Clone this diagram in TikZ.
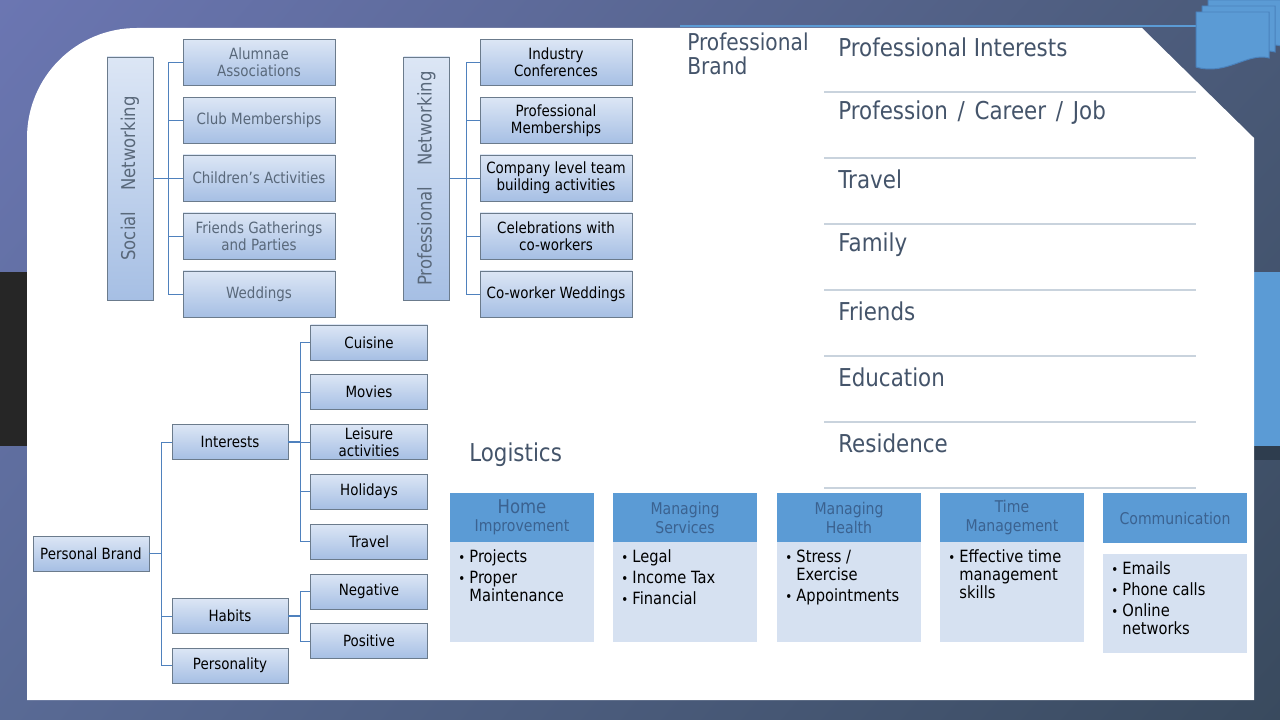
\documentclass[tikz,border=0pt]{standalone}
\usepackage{fontspec}
\usepackage{graphicx}
\usetikzlibrary{shadings}
\setmainfont{DejaVu Sans}[FakeStretch=0.87]
\definecolor{bgA}{HTML}{6B76B2}
\definecolor{bgB}{HTML}{4A5A78}
\definecolor{bgC}{HTML}{596A95}
\definecolor{bgD}{HTML}{394A5E}
\definecolor{darkband}{HTML}{262626}
\definecolor{accent}{HTML}{5B9BD5}
\definecolor{docedge}{HTML}{4A82BD}
\definecolor{strip}{HTML}{2E3D4E}
\definecolor{gtop}{HTML}{DCE6F5}
\definecolor{gbot}{HTML}{A6BFE4}
\definecolor{gborder}{HTML}{6B7B8C}
\definecolor{graytext}{HTML}{59687A}
\definecolor{slate}{HTML}{44546A}
\definecolor{brline}{HTML}{4F81BD}
\definecolor{sepline}{HTML}{C9D3DD}
\definecolor{bodyblue}{HTML}{D6E1F1}
\definecolor{hdrtext}{HTML}{3B6290}
\tikzset{
  gbox/.style={draw=gborder, line width=0.7pt, top color=gtop, bottom color=gbot,
    align=center, inner sep=0pt, font=\fontsize{11}{12.2}\selectfont},
  snbox/.style={gbox, minimum width={152*0.025cm}, minimum height={46*0.025cm}, text=graytext},
  pnbox/.style={gbox, minimum width={152*0.025cm}, minimum height={46*0.025cm}, text=black},
  pbbox/.style={gbox, minimum width={116*0.025cm}, minimum height={35*0.025cm}, text=black},
  chbox/.style={gbox, minimum width={117*0.025cm}, minimum height={35*0.025cm}, text=black},
  vbox/.style={gbox, minimum width={46*0.025cm}, minimum height={243*0.025cm}},
  vtext/.style={rotate=90, font=\fontsize{13.5}{15}\selectfont, text=graytext},
  br/.style={draw=brline, line width=0.7pt},
  brthick/.style={draw=brline, line width=1.4pt},
  listtext/.style={anchor=west, text=slate, font=\fontsize{17.5}{20}\selectfont, inner sep=0pt},
  sep/.style={draw=sepline, line width=0.8pt},
  hdr/.style={fill=accent, minimum width={144*0.025cm}, minimum height={49*0.025cm}, align=center, text=hdrtext, inner sep=0pt, font=\fontsize{11.5}{13.5}\selectfont},
  body/.style={fill=bodyblue, minimum width={144*0.025cm}, inner sep=0pt},
  btext/.style={anchor=north west, inner sep=0pt, font=\fontsize{12}{13}\selectfont, text=black},
}
\newcommand\bul{\scalebox{0.8}{\textbullet}}
\begin{document}
\begin{tikzpicture}[x=0.025cm, y=-0.025cm]
\useasboundingbox (0,0) rectangle (1280,720);
% background
\shade[upper left=bgA, upper right=bgB, lower left=bgC, lower right=bgD] (0,0) rectangle (1280,720);
\fill[darkband] (0,272) rectangle (27,446);
\fill[accent] (1254,272) rectangle (1280,446);
\fill[strip] (1254,446) rectangle (1280,460);
% white panel
\fill[white] (27,700) -- (27,138) .. controls (27,77) and (76,28) .. (137,28) -- (1142,28) -- (1254,138) -- (1254,700) -- cycle;
\draw[accent, line width=0.9pt] (680,26) -- (1200,26);
% document icon
\foreach \dx/\dy in {1208/0, 1202/6, 1196/12}{
  \filldraw[fill=accent, draw=docedge, line width=0.7pt] (\dx,\dy) -- (\dx+73,\dy) -- (\dx+73,\dy+46)
    .. controls (\dx+52,\dy+40) and (\dx+30,\dy+64) .. (\dx,\dy+55) -- cycle;
}
% ---------- Social networking ----------
\node[vbox] (sn) at (130,178.5) {};
\node[vtext] (snt) at (sn.center) {Social\hspace{1.1em}Networking};
\node[snbox] (s1) at (259,62.5) {Alumnae\\Associations};
\node[snbox] (s2) at (259,120.5) {Club Memberships};
\node[snbox] (s3) at (259,178) {Children’s Activities};
\node[snbox] (s4) at (259,236) {Friends Gatherings\\and Parties};
\node[snbox] (s5) at (259,294) {Weddings};
\coordinate (sj) at (168,178.5);
\draw[brthick] (sn.east) -- (sj);
\foreach \n in {s1,s2,s3,s4,s5}{\draw[br] (sj) |- (\n.west);}
% ---------- Professional networking ----------
\node[vbox] (pn) at (426.5,178.5) {};
\node[vtext] (pnt) at (pn.center) {Professional\hspace{1.1em}Networking};
\node[pnbox] (p1) at (556,62.5) {Industry\\Conferences};
\node[pnbox] (p2) at (556,120.5) {Professional\\Memberships};
\node[pnbox] (p3) at (556,178) {Company level team\\building activities};
\node[pnbox] (p4) at (556,236) {Celebrations with\\co-workers};
\node[pnbox] (p5) at (556,294) {Co-worker Weddings};
\coordinate (pj) at (466,178.5);
\draw[brthick] (pn.east) -- (pj);
\foreach \n in {p1,p2,p3,p4,p5}{\draw[br] (pj) |- (\n.west);}
% ---------- Personal brand ----------
\node[pbbox] (pb) at (91,553.5) {Personal Brand};
\node[pbbox] (int) at (230,442) {Interests};
\node[pbbox] (hab) at (230,616) {Habits};
\node[pbbox] (per) at (230,665.5) {Personality};
\node[chbox] (c1) at (369,342.5) {Cuisine};
\node[chbox] (c2) at (369,392) {Movies};
\node[chbox] (c3) at (369,442) {Leisure\\activities};
\node[chbox] (c4) at (369,491.5) {Holidays};
\node[chbox] (c5) at (369,541.5) {Travel};
\node[chbox] (h1) at (369,591.5) {Negative};
\node[chbox] (h2) at (369,641) {Positive};
\coordinate (pbj) at (161,553.5);
\coordinate (ij) at (300,442);
\coordinate (hj) at (300,616);
\draw[brthick] (pb.east) -- (pbj);
\foreach \n in {int,hab,per}{\draw[br] (pbj) |- (\n.west);}
\draw[brthick] (int.east) -- (ij);
\foreach \n in {c1,c2,c3,c4,c5}{\draw[br] (ij) |- (\n.west);}
\draw[brthick] (hab.east) -- (hj);
\foreach \n in {h1,h2}{\draw[br] (hj) |- (\n.west);}
% ---------- Professional brand list ----------
\node[anchor=north west, align=left, text=slate, inner sep=0pt, font=\fontsize{16.5}{16.5}\selectfont] (pbr) at (687,33) {Professional\\Brand};
\node[listtext] (l1) at (838,47) {Professional Interests};
\node[listtext] (l2) at (838,113) {Profession\hspace{0.12em} /\hspace{0.12em} Career\hspace{0.12em} /\hspace{0.12em} Job};
\node[listtext] (l3) at (838,179) {Travel};
\node[listtext] (l4) at (838,245) {Family};
\node[listtext] (l5) at (838,311) {Friends};
\node[listtext] (l6) at (838,377) {Education};
\node[listtext] (l7) at (838,443) {Residence};
\foreach \y in {92,158,224,290,356,422,488}{\draw[sep] (824,\y) -- (1196,\y);}
% ---------- Logistics ----------
\node[listtext] (log) at (469,455) {Logistics};
% column 1
\node[hdr] (h1b) at (522,517.5) {{\fontsize{13.5}{15}\selectfont Home}\\[-1pt]Improvement};
\node[body, minimum height={100*0.025cm}] (b1) at (522,592) {};
\node[btext] (t1) at (458,549) {\begin{tabular}{@{}l@{\hspace{3pt}}l@{}}\bul&Projects\\[2pt]\bul&Proper\\&Maintenance\end{tabular}};
% column 2
\node[hdr] (h2b) at (685,517.5) {Managing\\Services};
\node[body, minimum height={100*0.025cm}] (b2) at (685,592) {};
\node[btext] (t2) at (621,549) {\begin{tabular}{@{}l@{\hspace{3pt}}l@{}}\bul&Legal\\[2pt]\bul&Income Tax\\[2pt]\bul&Financial\end{tabular}};
% column 3
\node[hdr] (h3b) at (849,517.5) {Managing\\Health};
\node[body, minimum height={100*0.025cm}] (b3) at (849,592) {};
\node[btext] (t3) at (785,549) {\begin{tabular}{@{}l@{\hspace{3pt}}l@{}}\bul&Stress /\\&Exercise\\[2pt]\bul&Appointments\end{tabular}};
% column 4
\node[hdr] (h4b) at (1012,517.5) {Time\\Management};
\node[body, minimum height={100*0.025cm}] (b4) at (1012,592) {};
\node[btext] (t4) at (948,549) {\begin{tabular}{@{}l@{\hspace{3pt}}l@{}}\bul&Effective time\\&management\\&skills\end{tabular}};
% column 5
\node[hdr, minimum height={50*0.025cm}] (h5b) at (1175,518) {Communication};
\node[body, minimum height={99*0.025cm}] (b5) at (1175,603.5) {};
\node[btext] (t5) at (1111,561) {\begin{tabular}{@{}l@{\hspace{3pt}}l@{}}\bul&Emails\\[2pt]\bul&Phone calls\\[2pt]\bul&Online\\&networks\end{tabular}};
\end{tikzpicture}
\end{document}
